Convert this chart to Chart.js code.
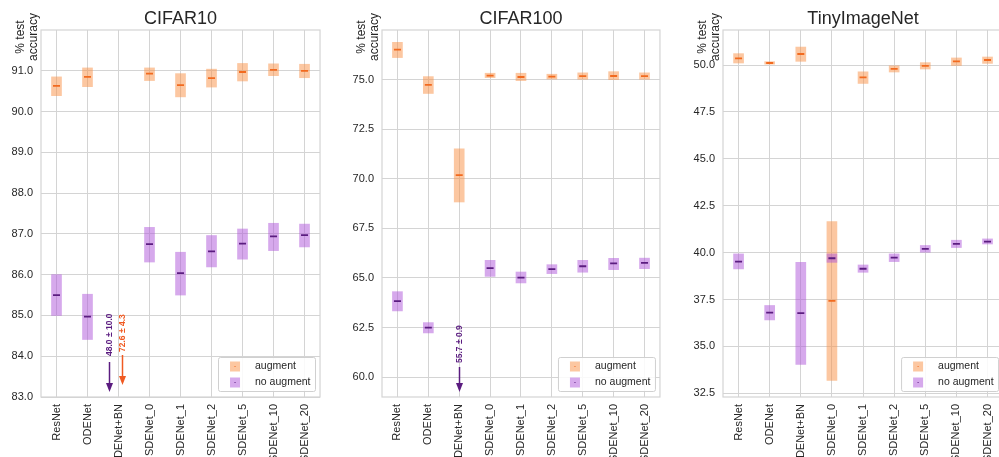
<!DOCTYPE html>
<html>
<head>
<meta charset="utf-8">
<script src="https://cdn.jsdelivr.net/npm/chart.js@4.4.0/dist/chart.umd.min.js"></script>
<style>
	body{margin:0;background:#fff;overflow:hidden;width:999px;height:457px;position:relative}
	canvas{position:absolute;top:0}
</style>
</head>
<body>
<canvas id="cifar10Chart" width="325" height="457" style="left:0px"></canvas>
<canvas id="cifar100Chart" width="332" height="457" style="left:333px"></canvas>
<canvas id="tinyChart" width="342" height="457" style="left:666px"></canvas>
<script>
var categories = ['ResNet', 'ODENet', 'ODENet+BN', 'SDENet_0', 'SDENet_1', 'SDENet_2', 'SDENet_5', 'SDENet_10', 'SDENet_20'];

// CIFAR10 (median, box low, box high)
var c10AugMed = [90.63, 90.85, null, 90.93, 90.65, 90.82, 90.97, 91.02, 91.00];
var c10AugLo  = [90.39, 90.61, null, 90.76, 90.36, 90.60, 90.75, 90.88, 90.83];
var c10AugHi  = [90.85, 91.07, null, 91.07, 90.93, 91.04, 91.18, 91.17, 91.16];
var c10NoMed  = [85.50, 84.97, null, 86.75, 86.04, 86.57, 86.76, 86.94, 86.97];
var c10NoLo   = [85.00, 84.41, null, 86.31, 85.50, 86.19, 86.38, 86.59, 86.68];
var c10NoHi   = [86.00, 85.52, null, 87.16, 86.55, 86.96, 87.12, 87.26, 87.24];
var c10NoOff  = [48.0, 10.0];   // ODENet+BN, below the axis
var c10AugOff = [72.6, 4.3];
var c10Ticks  = [83, 84, 85, 86, 87, 88, 89, 90, 91];

// CIFAR100
var c100AugMed = [76.51, 74.73, 70.18, 75.20, 75.13, 75.15, 75.17, 75.18, 75.17];
var c100AugLo  = [76.11, 74.30, 68.83, 75.10, 74.95, 75.03, 75.02, 75.00, 75.02];
var c100AugHi  = [76.88, 75.15, 71.51, 75.32, 75.32, 75.27, 75.34, 75.40, 75.34];
var c100NoMed  = [63.83, 62.50, null, 65.50, 65.02, 65.45, 65.59, 65.74, 65.76];
var c100NoLo   = [63.34, 62.23, null, 65.08, 64.75, 65.22, 65.29, 65.42, 65.47];
var c100NoHi   = [64.31, 62.75, null, 65.89, 65.30, 65.67, 65.89, 65.99, 66.00];
var c100NoOff  = [55.7, 0.9];
var c100Ticks  = [60, 62.5, 65, 67.5, 70, 72.5, 75];

// TinyImageNet
var tinAugMed = [50.36, 50.11, 50.59, 37.43, 49.34, 49.80, 49.96, 50.20, 50.27];
var tinAugLo  = [50.11, 50.05, 50.20, 33.18, 49.02, 49.63, 49.79, 49.98, 50.09];
var tinAugHi  = [50.61, 50.18, 50.96, 41.66, 49.64, 49.96, 50.13, 50.38, 50.43];
var tinNoMed  = [39.52, 36.80, 36.77, 39.70, 39.14, 39.73, 40.20, 40.46, 40.59];
var tinNoLo   = [39.13, 36.41, 34.04, 39.48, 38.95, 39.52, 40.02, 40.27, 40.46];
var tinNoHi   = [39.93, 37.18, 39.48, 39.93, 39.34, 39.93, 40.38, 40.66, 40.73];
var tinTicks  = [32.5, 35, 37.5, 40, 42.5, 45, 47.5, 50];

var gridColor = '#d4d4d4';
var textColor = '#262626';
var augFill = 'rgba(249, 143, 67, 0.5)';
var augLine = '#f26a1f';
var noFill = 'rgba(173, 83, 217, 0.5)';
var noLine = '#5b1c80';
var sansFont = '"Liberation Sans", Arial, sans-serif';

Chart.defaults.font.family = sansFont;
Chart.defaults.color = textColor;

function boxes(lo, hi){
	return lo.map(function(v, i){ return v == null ? null : [v, hi[i]]; });
}

function fmt(pair){
	return pair[0].toFixed(1) + ' \u00b1 ' + pair[1].toFixed(1);
}

var panelFrame = {
	id: 'panelFrame',
	beforeDatasetsDraw: function(chart){
		var a = chart.chartArea, ctx = chart.ctx;
		ctx.save();
		ctx.strokeStyle = gridColor;
		ctx.lineWidth = 1.2;
		ctx.strokeRect(a.left, a.top, a.right - a.left, a.bottom - a.top);
		ctx.restore();
	},
	afterDraw: function(chart, args, opts){
		var a = chart.chartArea, ctx = chart.ctx;
		ctx.save();
		// y label
		ctx.translate(a.left - 14, 37);
		ctx.rotate(-Math.PI / 2);
		ctx.fillStyle = textColor;
		ctx.font = '12px ' + sansFont;
		ctx.textAlign = 'center';
		ctx.textBaseline = 'middle';
		ctx.fillText('% test', 0, -6.5);
		ctx.fillText('accuracy', 0, 6.5);
		ctx.restore();

		// arrows for values below the axis
		var xs = chart.scales.x;
		var step = xs.getPixelForValue(1) - xs.getPixelForValue(0);
		(opts.notes || []).forEach(function(n){
			var x = Math.round(xs.getPixelForValue(categories.indexOf(n.cat)) + n.dx * step) + 0.5;
			var y0 = a.bottom - n.top, y1 = a.bottom - n.tip;
			ctx.save();
			ctx.strokeStyle = n.color;
			ctx.fillStyle = n.color;
			ctx.lineWidth = 1.5;
			ctx.beginPath();
			ctx.moveTo(x, y0);
			ctx.lineTo(x, y1 - 8);
			ctx.stroke();
			ctx.beginPath();
			ctx.moveTo(x - 3.5, y1 - 9);
			ctx.lineTo(x + 3.5, y1 - 9);
			ctx.lineTo(x, y1);
			ctx.closePath();
			ctx.fill();
			ctx.translate(x, y0 - n.gap);
			ctx.rotate(-Math.PI / 2);
			ctx.font = 'bold 8.5px ' + sansFont;
			ctx.textAlign = 'left';
			ctx.textBaseline = 'middle';
			ctx.fillText(n.text, 0, 0);
			ctx.restore();
		});

		// legend, lower right inside the axes
		var w = 97, h = 34;
		var lx = a.right - 5 - w, ly = a.bottom - 6 - h;
		ctx.save();
		ctx.fillStyle = 'rgba(255,255,255,0.85)';
		ctx.strokeStyle = '#d0d0d0';
		ctx.lineWidth = 1;
		ctx.beginPath();
		ctx.roundRect(lx + 0.5, ly + 0.5, w, h, 2);
		ctx.fill();
		ctx.stroke();
		[['augment', augFill, augLine], ['no augment', noFill, noLine]].forEach(function(it, i){
			var cy = ly + 9.5 + i * 16;
			ctx.fillStyle = it[1];
			ctx.fillRect(lx + 12, cy - 5, 10, 10);
			ctx.fillStyle = it[2];
			ctx.fillRect(lx + 16.5, cy - 0.5, 1, 1);
			ctx.fillStyle = textColor;
			ctx.font = '10.5px ' + sansFont;
			ctx.textAlign = 'left';
			ctx.textBaseline = 'middle';
			ctx.fillText(it[0], lx + 37, cy);
		});
		ctx.restore();
	}
};

function buildPanel(id, title, axisW, yMin, yMax, ticks, aug, noAug, notes){
	var ctx = document.getElementById(id);
	return new Chart(ctx, {
		type: 'bar',
		data: {
			labels: categories,
			datasets: [
			{
				label: 'augment',
				data: boxes(aug[1], aug[2]),
				backgroundColor: augFill,
				borderWidth: 0,
				barThickness: 10,
				grouped: false,
				order: 2
			},
			{
				label: 'no augment',
				data: boxes(noAug[1], noAug[2]),
				backgroundColor: noFill,
				borderWidth: 0,
				barThickness: 10,
				grouped: false,
				order: 1
			},
			{
				type: 'line',
				label: 'augment median',
				data: aug[0],
				showLine: false,
				pointStyle: 'line',
				pointRadius: 3.5,
				pointHoverRadius: 3.5,
				pointBorderWidth: 1.8,
				borderColor: augLine,
				order: 0
			},
			{
				type: 'line',
				label: 'no augment median',
				data: noAug[0],
				showLine: false,
				pointStyle: 'line',
				pointRadius: 3.5,
				pointHoverRadius: 3.5,
				pointBorderWidth: 1.8,
				borderColor: noLine,
				order: 0
			}
			]
		},
		options: {
			responsive: false,
			animation: false,
			layout: { padding: 0, autoPadding: false },
			scales: {
				x: {
					offset: true,
					grid: { color: gridColor, offset: false, drawTicks: false },
					border: { display: false },
					ticks: { minRotation: 90, maxRotation: 90, autoSkip: false, padding: 7, font: { size: 11 }, color: textColor },
					afterFit: function(s){ s.height = 60; }
				},
				y: {
					min: yMin,
					max: yMax,
					grid: { color: gridColor, drawTicks: false },
					border: { display: false },
					ticks: { padding: 8, font: { size: 11 }, color: textColor, callback: function(v){ return v.toFixed(1); } },
					afterBuildTicks: function(s){ s.ticks = ticks.map(function(v){ return { value: v }; }); },
					afterFit: function(s){ s.width = axisW; }
				}
			},
			plugins: {
				legend: { display: false },
				tooltip: { enabled: false },
				title: {
					display: true,
					text: title,
					fullSize: false,
					font: { size: 18, weight: 'normal' },
					color: textColor,
					padding: { top: 8, bottom: 0.4 }
				},
				panelFrame: { notes: notes }
			}
		},
		plugins: [panelFrame]
	});
}

window.cifar10Chart = buildPanel('cifar10Chart', 'CIFAR10', 41, 83, 92, c10Ticks,
	[c10AugMed, c10AugLo, c10AugHi], [c10NoMed, c10NoLo, c10NoHi],
	[
		{ cat: 'ODENet+BN', text: fmt(c10NoOff), color: noLine, dx: -0.31, top: 35, tip: 5, gap: 6 },
		{ cat: 'ODENet+BN', text: fmt(c10AugOff), color: '#f05a22', dx: 0.12, top: 42, tip: 12, gap: 3 }
	]);

window.cifar100Chart = buildPanel('cifar100Chart', 'CIFAR100', 49, 59.0, 77.5, c100Ticks,
	[c100AugMed, c100AugLo, c100AugHi], [c100NoMed, c100NoLo, c100NoHi],
	[
		{ cat: 'ODENet+BN', text: fmt(c100NoOff), color: noLine, dx: 0, top: 30, tip: 5, gap: 4 }
	]);

window.tinyChart = buildPanel('tinyChart', 'TinyImageNet', 57, 32.3, 51.87, tinTicks,
	[tinAugMed, tinAugLo, tinAugHi], [tinNoMed, tinNoLo, tinNoHi], []);
</script>
</body>
</html>
